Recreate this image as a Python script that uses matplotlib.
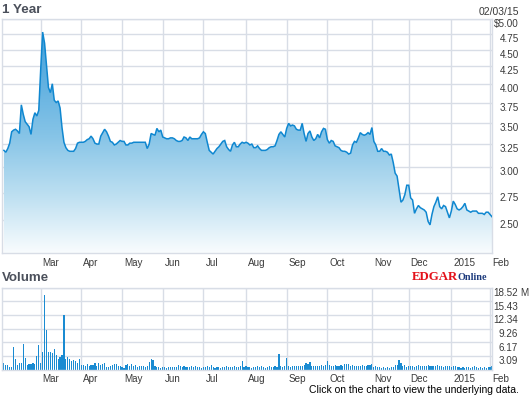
import numpy as np
import pandas as pd
import matplotlib
matplotlib.use("Agg")
import matplotlib.pyplot as plt
from matplotlib.patches import Polygon
from matplotlib.colors import LinearSegmentedColormap
from matplotlib.ticker import NullLocator

plt.rcParams['font.family'] = ['Liberation Sans', 'DejaVu Sans']

# ---------------- data ----------------
start_date = "2014-02-03"
end_date = "2015-02-03"
holidays = ["2014-02-17", "2014-04-18", "2014-05-26", "2014-07-04", "2014-09-01",
            "2014-11-27", "2014-12-25", "2015-01-01", "2015-01-19"]

price = [
    3.18, 3.16, 3.20, 3.26, 3.39, 3.41, 3.42, 3.40, 3.37, 3.72,
    3.60, 3.51, 3.48, 3.45, 3.36, 3.54, 3.62, 3.58, 3.65, 4.20,
    4.78, 4.60, 4.26, 3.95, 3.88, 4.00, 3.78, 3.75, 3.77, 3.68,
    3.44, 3.27, 3.21, 3.18, 3.17, 3.17, 3.17, 3.20, 3.26, 3.27,
    3.27, 3.27, 3.28, 3.30, 3.31, 3.34, 3.31, 3.26, 3.25, 3.25,
    3.34, 3.38, 3.42, 3.39, 3.34, 3.28, 3.27, 3.24, 3.25, 3.27,
    3.29, 3.28, 3.28, 3.24, 3.24, 3.26, 3.26, 3.27, 3.27, 3.27,
    3.27, 3.27, 3.27, 3.27, 3.20, 3.25, 3.37, 3.36, 3.35, 3.43,
    3.39, 3.41, 3.33, 3.32, 3.31, 3.31, 3.32, 3.32, 3.31, 3.29,
    3.28, 3.28, 3.29, 3.33, 3.32, 3.29, 3.33, 3.31, 3.31, 3.31,
    3.31, 3.32, 3.36, 3.39, 3.37, 3.27, 3.18, 3.16, 3.14, 3.17,
    3.20, 3.22, 3.25, 3.28, 3.29, 3.22, 3.19, 3.17, 3.24, 3.27,
    3.22, 3.22, 3.25, 3.27, 3.26, 3.27, 3.26, 3.24, 3.25, 3.21,
    3.21, 3.23, 3.20, 3.18, 3.18, 3.18, 3.19, 3.21, 3.22, 3.22,
    3.23, 3.29, 3.36, 3.39, 3.36, 3.33, 3.43, 3.49, 3.46, 3.47,
    3.46, 3.42, 3.41, 3.41, 3.49, 3.37, 3.28, 3.37, 3.40, 3.33,
    3.29, 3.31, 3.36, 3.32, 3.39, 3.43, 3.42, 3.30, 3.26, 3.29,
    3.28, 3.23, 3.22, 3.21, 3.18, 3.17, 3.17, 3.16, 3.14, 3.15,
    3.24, 3.28, 3.27, 3.32, 3.38, 3.36, 3.35, 3.36, 3.38, 3.36,
    3.44, 3.28, 3.24, 3.17, 3.17, 3.20, 3.17, 3.17, 3.16, 3.13,
    3.14, 3.05, 2.94, 2.91, 2.78, 2.66, 2.68, 2.73, 2.82, 2.82,
    2.70, 2.68, 2.56, 2.60, 2.63, 2.61, 2.60, 2.59, 2.57, 2.49,
    2.46, 2.55, 2.62, 2.66, 2.71, 2.62, 2.60, 2.63, 2.62, 2.57,
    2.52, 2.58, 2.67, 2.64, 2.60, 2.59, 2.60, 2.62, 2.65, 2.59,
    2.58, 2.57, 2.58, 2.58, 2.58, 2.56, 2.56, 2.56, 2.55, 2.57,
    2.57, 2.55, 2.53,
]

volume_m = [
    1.54, 1.08, 1.08, 0.62, 0.46, 5.10, 2.30, 0.93, 1.39, 1.39,
    5.70, 2.50, 0.93, 1.16, 1.16, 1.39, 1.16, 3.00, 5.56, 1.39,
    3.94, 16.9, 9.00, 3.94, 3.94, 3.70, 4.60, 3.24, 2.30, 2.86,
    3.24, 12.3, 2.30, 2.86, 2.30, 1.85, 2.08, 1.85, 1.39, 2.30,
    0.93, 0.93, 0.70, 1.16, 0.70, 0.93, 0.93, 1.39, 0.70, 1.39,
    0.93, 1.16, 1.39, 0.46, 0.46, 0.70, 0.93, 1.16, 1.16, 0.70,
    0.70, 0.46, 0.23, 0.93, 1.16, 0.90, 1.20, 0.70, 1.00, 0.60,
    0.80, 0.90, 0.70, 0.60, 0.80, 1.60, 2.30, 2.10, 0.90, 0.60,
    0.50, 0.40, 0.60, 0.50, 0.40, 0.50, 0.60, 0.50, 0.60, 0.50,
    1.00, 0.70, 0.60, 0.70, 0.50, 0.60, 0.50, 0.70, 0.60, 0.80,
    0.50, 0.60, 0.40, 0.60, 0.50, 0.70, 0.50, 1.00, 0.50, 0.40,
    0.60, 0.50, 0.40, 0.60, 0.50, 0.70, 0.50, 0.60, 0.50, 0.70,
    0.60, 0.50, 0.70, 2.00, 0.60, 0.80, 0.50, 0.50, 0.40, 0.60,
    0.50, 0.70, 0.50, 0.90, 0.50, 0.40, 0.60, 0.80, 0.60, 0.50,
    0.70, 0.60, 3.60, 0.80, 0.60, 0.70, 2.60, 0.80, 0.60, 0.70,
    0.80, 0.90, 0.80, 0.90, 0.80, 1.00, 1.50, 1.30, 1.60, 0.90,
    0.80, 0.90, 0.70, 0.90, 1.00, 0.80, 1.10, 2.00, 1.00, 0.80,
    0.90, 1.00, 0.80, 0.90, 1.10, 0.80, 1.20, 1.30, 1.20, 0.90,
    1.00, 0.80, 0.90, 0.80, 0.90, 1.00, 0.80, 0.90, 1.00, 1.10,
    1.30, 0.60, 0.90, 0.50, 0.60, 0.40, 0.50, 0.40, 0.50, 0.40,
    0.60, 0.50, 1.00, 1.10, 2.20, 1.50, 0.80, 1.00, 0.60, 0.80,
    0.70, 0.90, 0.60, 0.80, 1.00, 0.80, 0.90, 0.70, 0.80, 1.10,
    0.90, 0.80, 0.70, 0.90, 1.00, 0.70, 0.80, 0.60, 0.70, 0.80,
    0.70, 0.60, 0.80, 0.70, 0.60, 0.50, 0.40, 0.50, 0.40, 0.50,
    0.60, 0.40, 0.50, 0.70, 0.50, 0.40, 0.50, 0.40, 0.50, 0.40,
    0.50, 0.60, 0.70,
]

price_ticks = [2.50, 2.75, 3.00, 3.25, 3.50, 3.75, 4.00, 4.25, 4.50, 4.75, 5.00]
price_tick_labels = ["2.50", "2.75", "3.00", "3.25", "3.50", "3.75", "4.00",
                     "4.25", "4.50", "4.75", "$5.00"]
volume_max = 18.52
volume_tick_labels = ["3.09", "6.17", "9.26", "12.34", "15.43", "18.52"]
month_labels = ["Mar", "Apr", "May", "Jun", "Jul", "Aug", "Sep", "Oct", "Nov",
                "Dec", "2015", "Feb"]
title = "1 Year"
date_label = "02/03/15"

# ---------------- derived ----------------
dates = pd.bdate_range(start_date, end_date)
dates = dates[~dates.isin(pd.to_datetime(holidays))]
n = len(dates)
idx = np.arange(n)
price_arr = np.array(price)
vol_arr = np.array(volume_m)

month_key = dates.year * 12 + dates.month
first_idx = [i for i in range(1, n) if month_key[i] != month_key[i - 1]]

W, H = 530, 395
fig = plt.figure(figsize=(W / 100, H / 100), dpi=100)
fig.patch.set_facecolor("white")

grid_c = "#d8dde6"
line_c = "#0f87d0"
txt_c = "#3a3a3a"
tick_fs = 7.1


def fx(px):
    return px / W


def fy(py):
    return 1 - py / H


ax = fig.add_axes([fx(2), fy(253), fx(490), 234 / H])
ax.set_yscale("log")
ymin, ymax = 2.233, 5.0

poly_verts = [(idx[0], 1.5)] + list(zip(idx, price_arr)) + [(idx[-1], 1.5)]
poly = Polygon(poly_verts, closed=True, facecolor="none", edgecolor="none",
               transform=ax.transData)
ax.add_patch(poly)
cmap = LinearSegmentedColormap.from_list(
    "grad", [(0.0, "#f9fcfe"), (0.25, "#bcdff1"), (0.5, "#86c4e7"),
             (0.75, "#5eafe0"), (1.0, "#3d9cd8")])
grad = np.linspace(0, 1, 256).reshape(-1, 1)
im = ax.imshow(grad, extent=[0, 1, 0, 1], origin="lower", transform=ax.transAxes,
               aspect="auto", cmap=cmap, zorder=1, interpolation="bilinear")
im.set_clip_path(poly)
ax.plot(idx, price_arr, color=line_c, lw=1.1, zorder=3, solid_joinstyle="miter")

ax.set_xlim(-0.98, 252)
ax.set_ylim(ymin, ymax)
ax.set_yticks(price_ticks)
ax.yaxis.set_minor_locator(NullLocator())
ax.set_xticks(first_idx)
ax.tick_params(length=0, labelleft=False, labelbottom=False)
ax.grid(True, color=grid_c, lw=1, zorder=0)
ax.set_axisbelow(True)
for s in ax.spines.values():
    s.set_color(grid_c)
    s.set_linewidth(1)

for v, lab in zip(price_ticks, price_tick_labels):
    ax.annotate(lab, xy=(1, v), xycoords=("axes fraction", "data"),
                xytext=(27, -5), textcoords="offset pixels",
                ha="right", va="center", fontsize=tick_fs, color=txt_c)

for i, lab in zip(first_idx, month_labels):
    ax.annotate(lab, xy=(i, 0), xycoords=("data", "axes fraction"),
                xytext=(2, -10), textcoords="offset pixels",
                ha="left", va="center", fontsize=tick_fs, color=txt_c)

# volume
ax2 = fig.add_axes([fx(2), fy(369.5), fx(490), 82 / H])
ax2.bar(idx, vol_arr, width=0.6, color="#1a8bd2", linewidth=0, zorder=2)
ax2.set_xlim(-0.98, 252)
ax2.set_ylim(0, volume_max)
vticks = [volume_max * k / 6 for k in range(1, 7)]
ax2.set_yticks(vticks)
ax2.set_xticks(first_idx)
ax2.tick_params(length=0, labelleft=False, labelbottom=False)
ax2.grid(True, color=grid_c, lw=1, zorder=0)
ax2.set_axisbelow(True)
for s in ax2.spines.values():
    s.set_color(grid_c)
    s.set_linewidth(1)

for v, lab in zip(vticks, volume_tick_labels):
    ax2.annotate(lab, xy=(1, v), xycoords=("axes fraction", "data"),
                 xytext=(26, -5.5), textcoords="offset pixels",
                 ha="right", va="center", fontsize=tick_fs, color=txt_c)
ax2.annotate("M", xy=(1, volume_max), xycoords=("axes fraction", "data"),
             xytext=(28.5, -5.5), textcoords="offset pixels",
             ha="left", va="center", fontsize=tick_fs, color=txt_c)

for i, lab in zip(first_idx, month_labels):
    ax2.annotate(lab, xy=(i, 0), xycoords=("data", "axes fraction"),
                 xytext=(2, -9), textcoords="offset pixels",
                 ha="left", va="center", fontsize=tick_fs, color=txt_c)

# titles and texts
fig.text(fx(2), fy(10), title, fontsize=9.7, fontweight="bold", color="#4b505b",
         ha="left", va="center")
fig.text(fx(519), fy(12), date_label, fontsize=7.5, color=txt_c, ha="right", va="center")
fig.text(fx(2), fy(278), "Volume", fontsize=9.6, fontweight="bold", color="#4b505b",
         ha="left", va="center")
fig.text(fx(412), fy(280), "EDGAR", fontsize=9.3, fontweight="bold", color="#e3121b",
         family="Liberation Serif", ha="left", va="baseline")
fig.text(fx(457), fy(280), "Online", fontsize=7.3, fontweight="bold", color="#1c3a7c",
         family="Liberation Serif", ha="left", va="baseline")
fig.text(fx(519), fy(390), "Click on the chart to view the underlying data.",
         fontsize=7.5, color="black", ha="right", va="center")

fig.savefig("out.png", dpi=100, facecolor="white")
